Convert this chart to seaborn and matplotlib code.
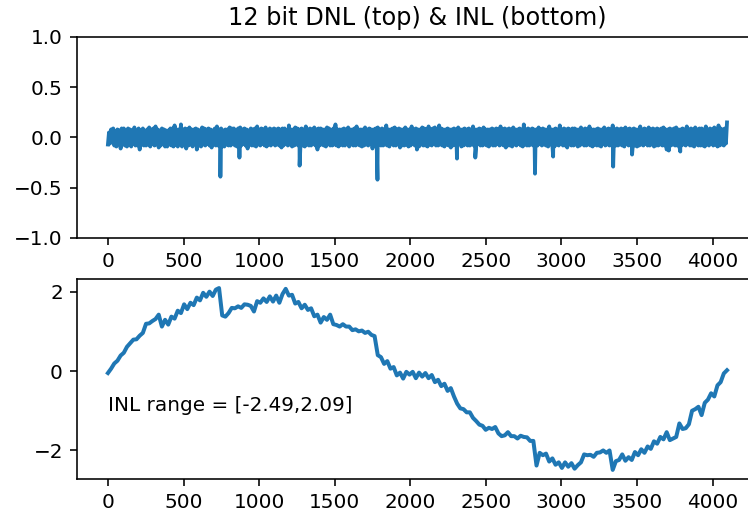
import numpy as np
import matplotlib
matplotlib.use("Agg")
import matplotlib.pyplot as plt
from matplotlib.ticker import MultipleLocator
import seaborn as sns

# ---------------- data ----------------
title = "12 bit DNL (top) & INL (bottom)"

# DNL band, sampled every 7 codes (0 .. 4095), values in hundredths of an LSB
dnl_step = 7
dnl_hundredths = [
    -7, 5, -6, 8, -4, 9, -8, 6, -9, 8, -5, 7, -11, 9, -6, 9, -8, 5, -9, 9,
    -7, 8, -9, 7, -6, 10, -8, 6, -8, 9, -12, 7, -7, 9, -8, 6, -8, 8, -7, 10,
    -9, 8, -6, 9, -8, 11, -7, 8, -10, 7, -8, 9, -6, 8, -9, 7, -9, 7, -7, 9,
    -8, 9, -9, 12, -7, 8, -9, 8, -6, 13, -9, 8, -7, 9, -11, 8, -8, 10, -7, 8,
    -9, 8, -6, 9, -12, 8, -8, 7, -9, 10, -7, 9, -8, 8, -6, 9, -8, 8, -10, 7,
    -7, 9, -8, 11, -8, 8, -6, 9, -9, 7, -9, 8, -7, 8, -8, 10, -8, 9, -6, 9,
    -8, 7, -9, 9, -7, 10, -8, 8, -6, 9, -8, 8, -11, 7, -7, 9, -8, 8, -8, 9,
    -9, 11, -7, 8, -8, 9, -6, 8, -8, 10, -9, 7, -7, 9, -8, 8, -6, 9, -8, 8,
    -7, 9, -8, 8, -10, 9, -8, 9, -6, 7, -8, 12, -7, 8, -9, 8, -8, 10, -7, 9,
    -8, 8, -6, 9, -8, 8, -9, 11, -7, 8, -8, 9, -8, 8, -6, 10, -8, 8, -12, 9,
    -8, 9, -7, 8, -8, 8, -9, 10, -6, 9, -8, 7, -8, 9, -7, 13, -8, 8, -9, 8,
    -7, 8, -8, 9, -8, 8, -6, 10, -9, 8, -7, 8, -8, 9, -8, 11, -7, 8, -8, 8,
    -9, 8, -8, 10, -7, 8, -8, 9, -6, 8, -11, 8, -8, 9, -8, 10, -7, 8, -8, 9,
    -8, 8, -7, 12, -8, 8, -9, 8, -6, 9, -8, 10, -8, 8, -7, 9, -10, 8, -8, 8,
    -8, 10, -7, 8, -9, 8, -8, 11, -6, 8, -8, 9, -12, 8, -9, 8, -7, 10, -8, 9,
    -8, 8, -9, 11, -7, 8, -8, 9, -6, 10, -8, 8, -8, 12, -7, 9, -8, 8, -9, 8,
    -7, 9, -8, 8, -10, 8, -8, 9, -7, 8, -8, 10, -6, 8, -9, 8, -8, 9, -7, 8,
    -8, 9, -8, 8, -7, 11, -8, 8, -9, 8, -6, 9, -8, 8, -8, 10, -7, 8, -8, 8,
    -9, 8, -7, 9, -8, 8, -8, 9, -6, 8, -8, 11, -7, 8, -8, 9, -10, 8, -8, 9,
    -8, 8, -9, 10, -7, 8, -8, 8, -6, 9, -8, 8, -9, 13, -7, 8, -8, 9, -8, 8,
    -7, 9, -8, 8, -9, 8, -8, 10, -6, 8, -8, 9, -7, 8, -8, 8, -9, 11, -7, 8,
    -8, 8, -9, 9, -7, 8, -8, 12, -6, 8, -8, 9, -8, 8, -10, 9, -7, 8, -8, 9,
    -8, 9, -7, 8, -9, 8, -8, 10, -6, 8, -8, 9, -8, 8, -7, 11, -8, 8, -9, 8,
    -7, 8, -8, 9, -8, 8, -9, 8, -6, 10, -8, 8, -7, 9, -8, 8, -8, 12, -7, 8,
    -8, 9, -8, 8, -7, 9, -8, 8, -9, 10, -6, 8, -8, 9, -7, 8, -8, 9, -8, 8,
    -9, 8, -8, 11, -7, 8, -8, 9, -6, 8, -8, 10, -8, 8, -7, 9, -9, 8, -8, 9,
    -8, 8, -7, 9, -8, 10, -8, 8, -12, 8, -13, 9, -8, 8, -7, 9, -8, 10, -8, 8,
    -9, 8, -8, 9, -7, 8, -8, 11, -6, 8, -8, 9, -8, 8, -9, 10, -7, 8, -8, 9,
    -8, 9, -8, 8, -9, 11, -7, 8, -8, 9, -6, 8, -8, 10, -7, 8, -9, 12, -8, 9,
    -7, 8, -8, 9, -6, 15,
]

# isolated downward DNL spikes
spike_codes = [744, 870, 1268, 1783, 2309, 2430, 2825, 2945, 3342, 3467, 3786]
spike_values = [-0.39, -0.20, -0.28, -0.42, -0.21, -0.20, -0.36, -0.19, -0.29, -0.17, -0.14]

# INL sampled every 21 codes (0 .. 4095)
inl_step = 21
inl_values = [
    -0.05, 0.06, 0.19, 0.26, 0.39, 0.46, 0.61, 0.70, 0.79, 0.80,
    0.89, 0.96, 1.19, 1.20, 1.26, 1.31, 1.42, 1.12, 1.29, 1.17,
    1.37, 1.32, 1.52, 1.46, 1.68, 1.56, 1.72, 1.66, 1.85, 1.78,
    1.97, 1.87, 2.00, 1.89, 2.05, 2.09, 1.40, 1.37, 1.46, 1.59,
    1.58, 1.63, 1.59, 1.68, 1.67, 1.64, 1.50, 1.76, 1.72, 1.83,
    1.74, 1.88, 1.75, 1.90, 1.72, 1.94, 2.07, 1.90, 1.92, 1.70,
    1.74, 1.58, 1.67, 1.54, 1.58, 1.38, 1.42, 1.22, 1.36, 1.29,
    1.42, 1.18, 1.16, 1.12, 1.18, 1.12, 1.12, 1.03, 1.05, 1.00,
    1.02, 0.96, 0.99, 0.91, 0.88, 0.40, 0.35, 0.18, 0.25, 0.06,
    0.10, -0.11, -0.04, -0.19, -0.02, -0.09, -0.02, -0.18, -0.04, -0.14,
    -0.05, -0.18, -0.10, -0.28, -0.22, -0.38, -0.32, -0.50, -0.43, -0.64,
    -0.82, -0.94, -0.96, -1.04, -1.04, -1.18, -1.26, -1.35, -1.38, -1.48,
    -1.43, -1.46, -1.41, -1.57, -1.64, -1.62, -1.54, -1.64, -1.64, -1.70,
    -1.63, -1.66, -1.67, -1.76, -1.76, -2.38, -2.06, -2.12, -2.08, -2.28,
    -2.20, -2.36, -2.30, -2.44, -2.30, -2.41, -2.32, -2.46, -2.37, -2.30,
    -2.10, -2.12, -2.11, -2.16, -2.06, -2.05, -2.00, -2.06, -2.00, -2.49,
    -2.27, -2.24, -2.10, -2.26, -2.17, -2.24, -2.04, -2.12, -1.97, -2.06,
    -1.90, -1.96, -1.77, -1.83, -1.66, -1.72, -1.54, -1.74, -1.70, -1.66,
    -1.32, -1.46, -1.44, -1.34, -1.00, -0.96, -0.90, -1.11, -0.80, -0.72,
    -0.56, -0.64, -0.36, -0.28, -0.06, 0.02,
]

# ---------------- assemble series ----------------
dnl_codes = np.arange(len(dnl_hundredths)) * dnl_step
dnl_vals = np.array(dnl_hundredths, dtype=float) / 100.0
all_codes = np.concatenate([dnl_codes, np.array(spike_codes)])
all_dnl = np.concatenate([dnl_vals, np.array(spike_values)])
order = np.argsort(all_codes, kind="stable")
all_codes = all_codes[order]
all_dnl = all_dnl[order]

inl_codes = np.arange(len(inl_values)) * inl_step
inl = np.array(inl_values)

# ---------------- figure ----------------
DPI = 144
fig = plt.figure(figsize=(748 / DPI, 513 / DPI), dpi=DPI)
fig.patch.set_facecolor("white")
ax1 = fig.add_axes([0.1029, 0.5361, 0.9104, 0.3918])
ax2 = fig.add_axes([0.1029, 0.0663, 0.9104, 0.3899])

color = "#1f77b4"
sns.lineplot(x=all_codes, y=all_dnl, ax=ax1, color=color, linewidth=1.9,
             estimator=None, sort=False)
sns.lineplot(x=inl_codes, y=inl, ax=ax2, color=color, linewidth=2.0,
             estimator=None, sort=False)

ax1.set_ylim(-1, 1)
ax1.set_title(title, fontsize=12)
ax2.text(0, -1, f"INL range = [{inl.min():.2f},{inl.max():.2f}]", fontsize=10)

for ax in (ax1, ax2):
    ax.set_xlabel("")
    ax.set_ylabel("")
    ax.xaxis.set_major_locator(MultipleLocator(500))
    ax.tick_params(labelsize=10)

fig.savefig("out.png", dpi=DPI)
